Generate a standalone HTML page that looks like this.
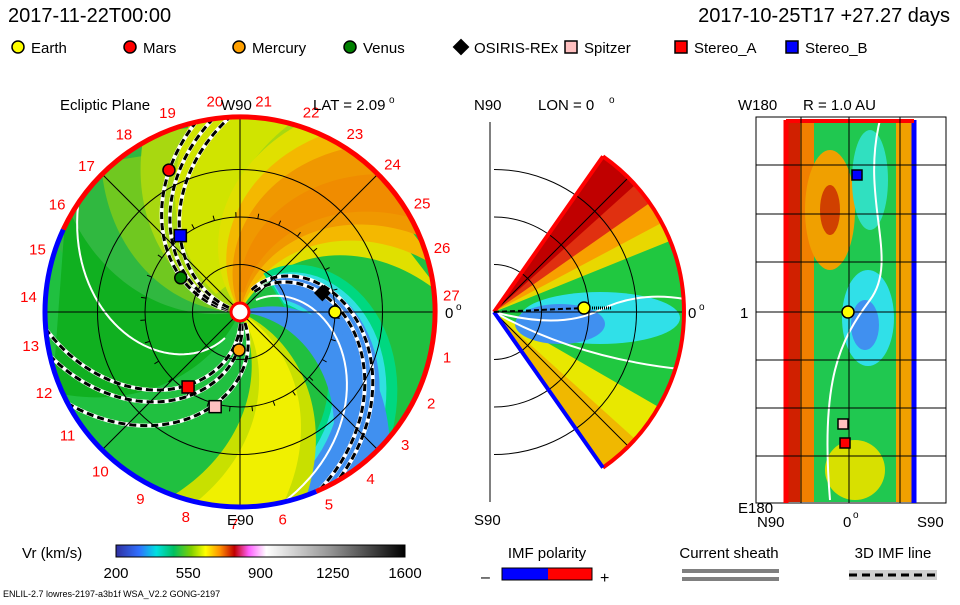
<!DOCTYPE html>
<html><head><meta charset="utf-8"><style>
body{margin:0;background:#fff;width:960px;height:600px;overflow:hidden;font-family:"Liberation Sans",sans-serif}
svg text{font-family:"Liberation Sans",sans-serif}
</style></head><body>
<svg id="s" width="960" height="600" viewBox="0 0 960 600">
<defs>
<linearGradient id="cb" x1="0" x2="1">
<stop offset="0" stop-color="#3030a0"/><stop offset="0.08" stop-color="#3070ff"/><stop offset="0.14" stop-color="#00e0e0"/><stop offset="0.2" stop-color="#00c060"/><stop offset="0.26" stop-color="#80d000"/><stop offset="0.31" stop-color="#ffff00"/><stop offset="0.36" stop-color="#ff9000"/><stop offset="0.41" stop-color="#c00000"/><stop offset="0.46" stop-color="#ff60ff"/><stop offset="0.52" stop-color="#ffffff"/><stop offset="0.75" stop-color="#909090"/><stop offset="1" stop-color="#000"/>
</linearGradient>
<clipPath id="cc"><circle cx="240" cy="312" r="195"/></clipPath>
<clipPath id="wc"><path d="M494,312 L603,156 A190,190 0 0 1 603,468 Z"/></clipPath>
<clipPath id="rc"><rect x="786" y="122" width="128" height="380"/></clipPath>
</defs>
<text x="8" y="22" font-size="20">2017-11-22T00:00</text>
<text x="950" y="22" font-size="20" text-anchor="end">2017-10-25T17 +27.27 days</text>
<g id="legend"></g>
<g id="eclip"></g>
<g id="mer"></g>
<g id="rpan"></g>
<g id="bottom">
<text x="22" y="558" font-size="15">Vr (km/s)</text>
<rect x="116" y="545" width="289" height="12" fill="url(#cb)" stroke="#000"/>
</g>
<g>
<text x="547" y="558" font-size="15" text-anchor="middle">IMF polarity</text>
<text x="481" y="582" font-size="16">–</text>
<rect x="502" y="568" width="46" height="12" fill="#0000ff"/><rect x="548" y="568" width="44" height="12" fill="#ff0000"/>
<rect x="502" y="568" width="90" height="12" fill="none" stroke="#000"/>
<text x="600" y="583" font-size="16">+</text>
</g>
<g>
<text x="729" y="558" font-size="15" text-anchor="middle">Current sheath</text>
<rect x="682" y="569" width="97" height="4" fill="#808080"/><rect x="682" y="577" width="97" height="4" fill="#808080"/>
</g>
<g>
<text x="893" y="558" font-size="15" text-anchor="middle">3D IMF line</text>
<rect x="849" y="570" width="88" height="10" fill="#d0d0d0"/>
<line x1="849" y1="575" x2="937" y2="575" stroke="#000" stroke-width="3" stroke-dasharray="8,5"/>
</g>
<text x="3" y="597" font-size="9">ENLIL-2.7 lowres-2197-a3b1f WSA_V2.2 GONG-2197</text>
</svg>
<script>
const NS="http://www.w3.org/2000/svg";
function el(p,t,a){const e=document.createElementNS(NS,t);for(const k in a)e.setAttribute(k,a[k]);p.appendChild(e);return e;}
const cbTicks=[200,550,900,1250,1600];
const bodyNames=["Earth","Mars","Mercury","Venus","OSIRIS-REx","Spitzer","Stereo_A","Stereo_B"];
const bodyColors=["#ffff00","#ff0000","#ffa000","#008000","#000000","#ffc0c0","#ff0000","#0000ff"];
const bodyShapes=["c","c","c","c","d","s","s","s"];
const bodyR=[1.0,1.67,0.40,0.72,0.89,1.03,0.96,1.02];
const bodyAng=[0,116.6,-91.5,150,13,-104.7,-124.7,128];
const dayLabels=[1,2,3,4,5,6,7,8,9,10,11,12,13,14,15,16,17,18,19,20,21,22,23,24,25,26,27];
const ringAU=[0.5,1,1.5];
const cbx=v=>116+(v-200)/(1600-200)*289;
const cbg=document.getElementById('bottom');
cbTicks.forEach(v=>{const t=el(cbg,'text',{x:cbx(v),y:578,'font-size':15,'text-anchor':'middle'});t.textContent=v;

});
function marker(g,x,y,sh,c,sz){
 if(sh==='c')return el(g,'circle',{cx:x,cy:y,r:sz,fill:c,stroke:'#000','stroke-width':1.5});
 if(sh==='s')return el(g,'rect',{x:x-sz,y:y-sz,width:2*sz,height:2*sz,fill:c,stroke:'#000','stroke-width':1.5});
 return el(g,'path',{d:`M${x},${y-sz*1.4}L${x+sz*1.4},${y}L${x},${y+sz*1.4}L${x-sz*1.4},${y}Z`,fill:c});
}
const lg=document.getElementById('legend');
const lx=[18,130,239,350,461,571,681,792];
bodyNames.forEach((n,i)=>{const m=marker(lg,lx[i],47,bodyShapes[i],bodyColors[i],6);


const t=el(lg,'text',{x:lx[i]+13,y:53,'font-size':15});t.textContent=n;

});
// ecliptic
const E=document.getElementById('eclip');const cx=240,cy=312,R=195,AU=95;
const P=(r,a)=>[cx+r*Math.cos(a*Math.PI/180),cy-r*Math.sin(a*Math.PI/180)];
el(E,'circle',{cx,cy,r:R,fill:'#20c040'});
const cg=el(E,'g',{'clip-path':'url(#cc)'});
function band(a0,a1,twist,col,r0){let pts=[];r0=r0||4;
 for(let r=r0;r<=R+10;r+=5)pts.push(P(r,a0-twist*r/R));
 for(let r=R+10;r>=r0;r-=5)pts.push(P(r,a1-twist*r/R));
 return el(cg,'polygon',{points:pts.map(p=>p.join(',')).join(' '),fill:col});}
band(200,160,40,'#30b840');
band(180,112,45,'#70c820');
band(165,118,45,'#a8d810');
band(150,120,45,'#d0e400',30);
band(128,62,55,'#e0e000');
band(120,70,55,'#f4b800');
band(112,78,55,'#f09800');
band(100,84,55,'#f08c00',20);
band(88,35,127,'#00d880',45);
band(80,40,127,'#30e0e0',45);
band(75,45,127,'#4090f0',45);
band(20,-5,60,'#4090f0',8);
band(-25,-65,45,'#c8e000');
band(-32,-58,45,'#f0f000');
band(-115,-170,40,'#10b020');
function spiral(a0,twist,r0,r1,attrs){let pts=[];for(let r=r0;r<=r1;r+=4)pts.push(P(r,a0-twist*r/R));return el(cg,'polyline',Object.assign({points:pts.map(p=>p.join(',')).join(' '),fill:'none'},attrs));}
spiral(50,127,20,200,{stroke:'#fff','stroke-width':2});
spiral(-103,111,30,200,{stroke:'#fff','stroke-width':2});
[[80,140,25,200],[72,138,25,200],[-60,92,12,200],[-75,92,12,200],[-83,92,12,200],[175,72,12,200],[170,72,12,200],[163,70,12,200]].forEach(s=>{
 spiral(s[0],s[1],s[2],s[3],{stroke:'#fff','stroke-width':4});
 const l=spiral(s[0],s[1],s[2],s[3],{stroke:'#000','stroke-width':3,'stroke-dasharray':'7,4'});
 
 });
ringAU.forEach(a=>el(E,'circle',{cx,cy,r:a*AU,fill:'none',stroke:'#000','stroke-width':1}));
for(let a=0;a<360;a+=13.2){const p=P(AU,a),q=P(AU+5,a);el(E,'line',{x1:p[0],y1:p[1],x2:q[0],y2:q[1],stroke:'#000'});}
el(E,'line',{x1:cx-R,y1:cy,x2:cx+R,y2:cy,stroke:'#000'});el(E,'line',{x1:cx,y1:cy-R,x2:cx,y2:cy+R,stroke:'#000'});
[45,135].forEach(a=>{const p=P(R,a),q=P(R,a+180);el(E,'line',{x1:p[0],y1:p[1],x2:q[0],y2:q[1],stroke:'#000'});});
function arc(a0,a1,r,col,w){const p=P(r,a0),q=P(r,a1);const large=Math.abs(a1-a0)>180?1:0;
 return el(E,'path',{d:`M${p[0]},${p[1]}A${r},${r} 0 ${large} ${a1>a0?0:1} ${q[0]},${q[1]}`,fill:'none',stroke:col,'stroke-width':w});}
arc(-67,155,R,'#ff0000',5);arc(155,293,R,'#0000ff',5);
el(E,'circle',{cx,cy,r:9,fill:'#fff',stroke:'#ff0000','stroke-width':3});
dayLabels.forEach(n=>{const a=-12.4-(n-1)*13.2;const p=P(212,a);const t=el(E,'text',{x:p[0],y:p[1]+5,'font-size':15,fill:'#ff0000','text-anchor':'middle'});t.textContent=n;

});
bodyNames.forEach((n,i)=>{const p=P(bodyR[i]*AU,bodyAng[i]);const m=marker(E,p[0],p[1],bodyShapes[i],bodyColors[i],6);

});
[["Ecliptic Plane",60,110],["LAT = 2.09",313,110],["W90",221,110],["E90",227,525],["0",445,318]].forEach(a=>{el(E,'text',{x:a[1],y:a[2],'font-size':15}).textContent=a[0];});
el(E,'text',{x:389,y:103,'font-size':10}).textContent='o';el(E,'text',{x:456,y:310,'font-size':10}).textContent='o';
// meridional wedge
const M=document.getElementById('mer');const mx=494,my=312,MR=190;
const Q=(r,a)=>[mx+r*Math.cos(a*Math.PI/180),my-r*Math.sin(a*Math.PI/180)];
const wg=el(M,'g',{'clip-path':'url(#wc)'});
const wed=(a0,a1,col)=>{const p=Q(MR+5,a0),q=Q(MR+5,a1);el(wg,'path',{d:`M${mx},${my}L${p[0]},${p[1]}A${MR+5},${MR+5} 0 0 1 ${q[0]},${q[1]}Z`,fill:col});};
wed(60,-60,'#20c840');wed(60,22,'#e8d800');wed(60,28,'#f8a000');wed(60,35,'#e03010');wed(60,42,'#c00000');
wed(-30,-60,'#e8e800');wed(-42,-60,'#f0b800');
el(wg,'ellipse',{cx:600,cy:318,rx:80,ry:26,fill:'#30e0e8'});el(wg,'ellipse',{cx:560,cy:324,rx:45,ry:20,fill:'#4090f0'});
el(wg,'path',{d:'M494,312 Q560,330 600,310 T690,300',fill:'none',stroke:'#fff','stroke-width':2});
el(wg,'path',{d:'M494,312 Q580,360 690,370',fill:'none',stroke:'#fff','stroke-width':2});
[47.5,95,142.5].forEach(r=>{const p=Q(r,90),q=Q(r,-90);el(M,'path',{d:`M${p[0]},${p[1]}A${r},${r} 0 0 1 ${q[0]},${q[1]}`,fill:'none',stroke:'#000'});});
[45,-45].forEach(a=>{const p=Q(MR,a);el(M,'line',{x1:mx,y1:my,x2:p[0],y2:p[1],stroke:'#000'});});
el(M,'line',{x1:mx,y1:my,x2:mx+MR,y2:my,stroke:'#000'});
el(M,'line',{x1:490,y1:122,x2:490,y2:502,stroke:'#000'});
{const p=Q(MR,55),q=Q(MR,-55);el(M,'path',{d:`M${p[0]},${p[1]}A${MR},${MR} 0 0 1 ${q[0]},${q[1]}`,fill:'none',stroke:'#ff0000','stroke-width':4});
el(M,'line',{x1:mx,y1:my,x2:p[0],y2:p[1],stroke:'#ff0000','stroke-width':4});el(M,'line',{x1:mx,y1:my,x2:q[0],y2:q[1],stroke:'#0000ff','stroke-width':4});}
el(M,'line',{x1:mx,y1:my,x2:584,y2:308,stroke:'#000','stroke-width':2,'stroke-dasharray':'5,3'});
el(M,'line',{x1:592,y1:308,x2:612,y2:308,stroke:'#000','stroke-width':3,'stroke-dasharray':'1,1'});
marker(M,584,308,'c','#ffff00',6);
[["N90",474,110],["LON = 0",538,110],["S90",474,525],["0",688,318]].forEach(a=>{el(M,'text',{x:a[1],y:a[2],'font-size':15}).textContent=a[0];});
el(M,'text',{x:609,y:103,'font-size':10}).textContent='o';el(M,'text',{x:699,y:310,'font-size':10}).textContent='o';
// right panel
const RP=document.getElementById('rpan');
el(RP,'rect',{x:756,y:117,width:190,height:386,fill:'#fff',stroke:'#000'});
const rg=el(RP,'g',{'clip-path':'url(#rc)'});
el(rg,'rect',{x:786,y:117,width:128,height:386,fill:'#20c850'});
el(rg,'rect',{x:786,y:117,width:16,height:386,fill:'#d02000'});
el(rg,'rect',{x:800,y:117,width:14,height:386,fill:'#f08000'});
el(rg,'ellipse',{cx:830,cy:210,rx:25,ry:60,fill:'#f0a000'});
el(rg,'ellipse',{cx:830,cy:210,rx:10,ry:25,fill:'#d04000'});
el(rg,'rect',{x:896,y:117,width:18,height:386,fill:'#f0a000'});
el(rg,'ellipse',{cx:868,cy:318,rx:26,ry:48,fill:'#30e0e8'});el(rg,'ellipse',{cx:865,cy:325,rx:14,ry:25,fill:'#4090f0'});
el(rg,'ellipse',{cx:870,cy:180,rx:18,ry:50,fill:'#30e0c0'});
el(rg,'ellipse',{cx:855,cy:470,rx:30,ry:30,fill:'#d8e000'});
el(rg,'path',{d:'M880,120 C860,200 900,260 870,300 C840,340 820,380 830,500',fill:'none',stroke:'#fff','stroke-width':2});
el(RP,'line',{x1:786,y1:120,x2:786,y2:503,stroke:'#ff0000','stroke-width':5});
el(RP,'line',{x1:914,y1:120,x2:914,y2:503,stroke:'#0000ff','stroke-width':5});
el(RP,'line',{x1:786,y1:121,x2:914,y2:121,stroke:'#ff0000','stroke-width':4});
[801,849,900].forEach(x=>el(RP,'line',{x1:x,y1:117,x2:x,y2:503,stroke:'#000'}));
[165,214,262,312,360,408,456].forEach(y=>el(RP,'line',{x1:756,y1:y,x2:946,y2:y,stroke:'#000'}));
marker(RP,857,175,'s','#0000ff',5);marker(RP,848,312,'c','#ffff00',6);marker(RP,843,424,'s','#ffc0c0',5);marker(RP,845,443,'s','#ff0000',5);
[["R = 1.0 AU",803,110],["W180",738,110],["E180",738,513],["N90",757,527],["0",843,527],["S90",917,527],["1",740,318]].forEach(a=>{el(RP,'text',{x:a[1],y:a[2],'font-size':15}).textContent=a[0];});
el(RP,'text',{x:853,y:518,'font-size':10}).textContent='o';
</script>
</body></html>
